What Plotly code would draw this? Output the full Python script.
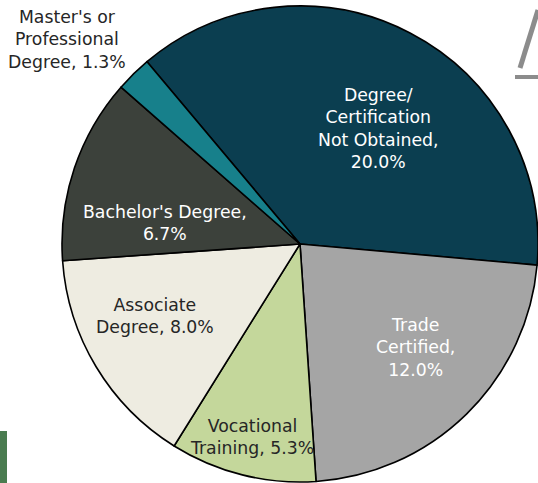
import plotly.graph_objects as go

labels = ["Degree/<br>Certification<br>Not Obtained", "Trade<br>Certified", "Vocational<br>Training",
          "Associate<br>Degree", "Bachelor's Degree", "Master's or<br>Professional<br>Degree"]
values = [20.0, 12.0, 5.3, 8.0, 6.7, 1.3]
separators = [",<br>", ",<br>", ", ", ", ", ",<br>", ", "]
colors = ["#0b3e50", "#a5a5a5", "#c4d79b", "#eeece1", "#3c413b", "#17808b"]
text_colors = ["white", "white", "#262626", "#262626", "white", "#262626"]
# label centres in pixels of the 538x483 canvas
label_px = [(378, 129), (415, 347), (252, 437), (155, 316), (165, 223), (67, 39)]

W, H = 538, 483
texts = [f"{l}{s}{v:.1f}%" for l, s, v in zip(labels, separators, values)]
FONT = "DejaVu Sans"

fig = go.Figure(go.Pie(
    labels=labels, values=values, textinfo="none",
    sort=False, direction="clockwise", rotation=-40,
    marker=dict(colors=colors, line=dict(color="black", width=1.6)),
    domain=dict(x=[62/W, 1], y=[0, 1 - 5/H]),
    showlegend=False, hoverinfo="label+value",
))

for t, c, (px, py) in zip(texts, text_colors, label_px):
    fig.add_annotation(x=px/W, y=1 - py/H, xref="paper", yref="paper",
                       xanchor="center", yanchor="middle",
                       text=t, showarrow=False, align="center",
                       font=dict(family=FONT, size=17.3, color=c))

# decorative slide elements
fig.add_shape(type="rect", xref="paper", yref="paper", x0=0, x1=7/W, y0=0, y1=1 - 431/H,
              fillcolor="#4a7c50", line_width=0)
fig.add_shape(type="line", xref="paper", yref="paper", x0=520/W, y0=1 - 68/H, x1=538/W, y1=1 - 10/H,
              line=dict(color="#8c8c8c", width=5))
fig.add_shape(type="line", xref="paper", yref="paper", x0=515/W, y0=1 - 77/H, x1=538/W, y1=1 - 77/H,
              line=dict(color="#8c8c8c", width=4))

fig.update_layout(width=W, height=H, margin=dict(l=0, r=0, t=0, b=0),
                  paper_bgcolor="white", plot_bgcolor="white")
fig.write_html("out.html", config={"displayModeBar": False},
               post_script="document.body.style.margin='0';document.body.style.overflow='hidden';")
